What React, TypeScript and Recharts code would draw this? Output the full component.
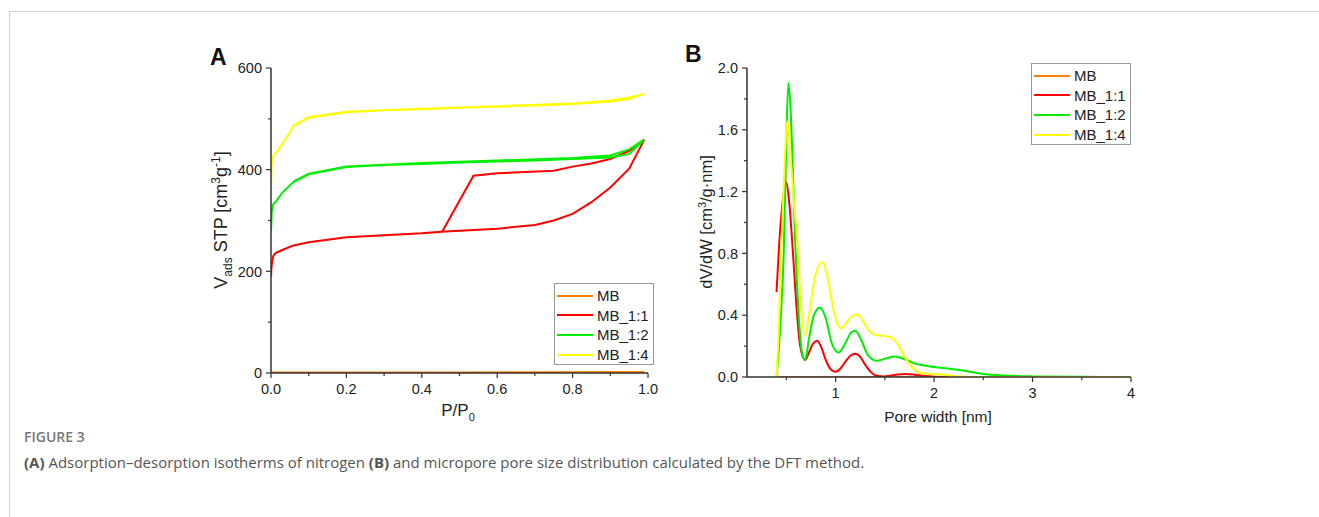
import React from 'react';
import { LineChart, Line, XAxis, YAxis } from 'recharts';

// series
const seriesNames = ['MB', 'MB_1:1', 'MB_1:2', 'MB_1:4'];
const seriesColors = ['#FF8000', '#FF0000', '#00EE00', '#FFFF00'];

// (A) N2 isotherms, [P/P0, V] adsorption then desorption
const isoMB = [[0.0, 1], [0.2, 1], [0.5, 1], [0.8, 1], [0.99, 2], [0.5, 1], [0.0, 1]];
const isoMB11 = [
  [0.0002, 190], [0.001, 205], [0.003, 220], [0.006, 230], [0.012, 236], [0.03, 242], [0.06, 251],
  [0.1, 257], [0.2, 267], [0.3, 271], [0.4, 275], [0.45, 278], [0.5, 280], [0.6, 284], [0.7, 291],
  [0.75, 300], [0.8, 313], [0.85, 336], [0.9, 365], [0.95, 402], [0.99, 459],
  [0.95, 437], [0.9, 421], [0.85, 412], [0.8, 406], [0.75, 398], [0.6, 393], [0.537, 388],
  [0.454, 278], [0.4, 275], [0.3, 271], [0.2, 267], [0.1, 257],
];
const isoMB12 = [
  [0.0002, 280], [0.002, 318], [0.006, 332], [0.015, 339], [0.03, 355], [0.06, 376], [0.1, 391],
  [0.2, 405], [0.3, 409], [0.4, 411], [0.5, 414], [0.6, 416], [0.7, 418], [0.8, 421], [0.9, 424],
  [0.95, 431], [0.99, 459],
  [0.95, 440], [0.9, 428], [0.8, 423], [0.6, 418], [0.4, 413], [0.2, 406], [0.1, 392], [0.06, 377],
];
const isoMB14 = [
  [0.0002, 370], [0.002, 412], [0.006, 428], [0.015, 434], [0.04, 462], [0.06, 486], [0.1, 502],
  [0.2, 513], [0.3, 517], [0.4, 519], [0.5, 522], [0.6, 524], [0.7, 526], [0.8, 529], [0.9, 534],
  [0.95, 539], [0.99, 549],
  [0.95, 542], [0.9, 536], [0.8, 530], [0.6, 525], [0.4, 520], [0.2, 514], [0.1, 503], [0.06, 487],
];

// (B) DFT pore size distribution, [width nm, dV/dW]
const psdMB = [[0.4, 0], [1, 0], [2, 0], [3, 0], [4, 0]];
const psdMB11 = [
  [0.40, 0.55], [0.423, 0.82], [0.46, 1.12], [0.50, 1.26], [0.53, 1.12], [0.565, 0.82], [0.60, 0.48],
  [0.64, 0.2], [0.69, 0.11], [0.73, 0.16], [0.77, 0.215], [0.81, 0.235], [0.85, 0.2], [0.90, 0.11],
  [0.95, 0.05], [1.0, 0.034], [1.05, 0.055], [1.10, 0.1], [1.15, 0.138], [1.20, 0.15], [1.25, 0.13],
  [1.30, 0.08], [1.36, 0.03], [1.42, 0.008], [1.50, 0.004], [1.60, 0.013], [1.70, 0.02], [1.80, 0.015],
  [1.90, 0.006], [2.0, 0.002], [2.2, 0],
];
const psdMB12 = [
  [0.40, 0], [0.44, 0.35], [0.474, 0.82], [0.50, 1.55], [0.52, 1.905], [0.545, 1.7], [0.57, 1.25],
  [0.593, 0.82], [0.63, 0.35], [0.66, 0.15], [0.69, 0.11], [0.73, 0.25], [0.78, 0.4], [0.84, 0.45],
  [0.90, 0.38], [0.96, 0.22], [1.03, 0.158], [1.10, 0.22], [1.16, 0.29], [1.20, 0.3], [1.26, 0.24],
  [1.33, 0.14], [1.42, 0.105], [1.50, 0.118], [1.60, 0.132], [1.70, 0.115], [1.80, 0.088], [1.90, 0.074],
  [2.0, 0.065], [2.2, 0.05], [2.4, 0.03], [2.5, 0.02], [2.7, 0.01], [3.0, 0.004], [3.5, 0.001], [4.0, 0],
];
const psdMB14 = [
  [0.40, 0], [0.425, 0.35], [0.447, 0.82], [0.48, 1.35], [0.51, 1.655], [0.54, 1.45], [0.58, 1.1],
  [0.617, 0.82], [0.65, 0.45], [0.69, 0.27], [0.73, 0.4], [0.79, 0.65], [0.87, 0.745], [0.93, 0.6],
  [0.99, 0.4], [1.06, 0.315], [1.12, 0.36], [1.18, 0.4], [1.22, 0.405], [1.28, 0.36], [1.35, 0.29],
  [1.42, 0.27], [1.50, 0.265], [1.58, 0.25], [1.65, 0.19], [1.72, 0.11], [1.78, 0.06], [1.85, 0.028],
  [1.95, 0.02], [2.05, 0.018], [2.15, 0.008], [2.3, 0.002], [2.5, 0], [4.0, 0],
];

// ticks
const ticksAx = [0, 0.1, 0.2, 0.3, 0.4, 0.5, 0.6, 0.7, 0.8, 0.9, 1.0];
const majorAx = ['0.0', '0.2', '0.4', '0.6', '0.8', '1.0'];
const ticksAy = [0, 100, 200, 300, 400, 500, 600];
const majorAy = ['0', '200', '400', '600'];
const ticksBx = [0.5, 1, 1.5, 2, 2.5, 3, 3.5, 4];
const majorBx = ['1', '2', '3', '4'];
const ticksBy = [0, 0.2, 0.4, 0.6, 0.8, 1.0, 1.2, 1.4, 1.6, 1.8, 2.0];
const majorBy = ['0.0', '0.4', '0.8', '1.2', '1.6', '2.0'];

const isoData = [isoMB, isoMB11, isoMB12, isoMB14];
const psdData = [psdMB, psdMB11, psdMB12, psdMB14];

const FONT = '"Liberation Sans", Arial, sans-serif';
const AX = '#333';
const TS = 5;
const TM = 4;

const toPts = (arr: number[][]) => arr.map(([x, y]) => ({ x, y }));

function leftTick(fmt: (v: number) => string, majors: string[]) {
  return (props: any) => {
    const { x, y, payload } = props;
    const lab = fmt(payload.value);
    const major = majors.includes(lab);
    const ax = x + TS + TM;
    return (
      <g>
        <line x1={ax} x2={ax - (major ? 5 : 3)} y1={y} y2={y} stroke={AX} strokeWidth={1.2} />
        {major && (
          <text x={ax - 9} y={y} dy="0.36em" textAnchor="end" fontSize={14.5} fill="#222" fontFamily={FONT}>
            {lab}
          </text>
        )}
      </g>
    );
  };
}

function bottomTick(fmt: (v: number) => string, majors: string[]) {
  return (props: any) => {
    const { x, y, payload } = props;
    const lab = fmt(payload.value);
    const major = majors.includes(lab);
    const ay = y - TS - TM;
    return (
      <g>
        <line x1={x} x2={x} y1={ay} y2={ay + (major ? 5 : 3)} stroke={AX} strokeWidth={1.2} />
        {major && (
          <text x={x} y={ay + 21} textAnchor="middle" fontSize={14.5} fill="#222" fontFamily={FONT}>
            {lab}
          </text>
        )}
      </g>
    );
  };
}

function Legend2({ left, top }: { left: number; top: number }) {
  return (
    <div
      style={{
        position: 'absolute', left, top, width: 98, height: 80, border: '1px solid #999',
        background: '#fff', fontFamily: FONT, fontSize: 15, color: '#222',
      }}
    >
      {seriesNames.map((n, i) => (
        <div key={n} style={{ position: 'absolute', left: 2, top: 2 + i * 19.7, height: 19, display: 'flex', alignItems: 'center' }}>
          <span style={{ display: 'inline-block', width: 36, height: 2, background: seriesColors[i], marginRight: 4 }} />
          <span>{n}</span>
        </div>
      ))}
    </div>
  );
}

const abs = (left: number, top: number): React.CSSProperties => ({ position: 'absolute', left, top });

export default function App() {
  return (
    <div style={{ position: 'relative', width: 1319, height: 517, overflow: 'hidden', background: '#fff', fontFamily: FONT }}>
      <style>{'body{margin:0}'}</style>
      <div style={{ position: 'absolute', left: 9, top: 11, width: 1400, height: 600, borderTop: '1px solid #cfcfcf', borderLeft: '1px solid #cfcfcf' }} />

      {/* panel A */}
      <div style={abs(201, 58)}>
        <LineChart width={457} height={355} margin={{ top: 10, right: 10, bottom: 0, left: 0 }}>
          <XAxis
            type="number" dataKey="x" domain={[0, 1]} ticks={ticksAx} allowDataOverflow height={40}
            tickSize={TS} tickMargin={TM} tickLine={false} axisLine={{ stroke: AX, strokeWidth: 1.5 }}
            tick={bottomTick((v) => v.toFixed(1), majorAx)} interval={0}
          />
          <YAxis
            type="number" dataKey="y" domain={[0, 600]} ticks={ticksAy} allowDataOverflow width={70}
            tickSize={TS} tickMargin={TM} tickLine={false} axisLine={{ stroke: AX, strokeWidth: 1.5 }}
            tick={leftTick((v) => String(v), majorAy)} interval={0}
          />
          {isoData.map((d, i) => (
            <Line
              key={seriesNames[i]} data={toPts(d)} dataKey="y" type="linear" stroke={seriesColors[i]}
              strokeWidth={2} dot={false} isAnimationActive={false}
            />
          ))}
        </LineChart>
      </div>

      {/* panel B */}
      <div style={abs(677, 58)}>
        <LineChart width={464} height={359} margin={{ top: 10, right: 10, bottom: 0, left: 0 }}>
          <XAxis
            type="number" dataKey="x" domain={[0.1, 4]} ticks={ticksBx} allowDataOverflow height={40}
            tickSize={TS} tickMargin={TM} tickLine={false} axisLine={{ stroke: AX, strokeWidth: 1.5 }}
            tick={bottomTick((v) => String(v), majorBx)} interval={0}
          />
          <YAxis
            type="number" dataKey="y" domain={[0, 2]} ticks={ticksBy} allowDataOverflow width={70}
            tickSize={TS} tickMargin={TM} tickLine={false} axisLine={{ stroke: AX, strokeWidth: 1.5 }}
            tick={leftTick((v) => v.toFixed(1), majorBy)} interval={0}
          />
          {psdData.map((d, i) => (
            <Line
              key={seriesNames[i]} data={toPts(d)} dataKey="y" type="monotone" stroke={seriesColors[i]}
              strokeWidth={2} dot={false} isAnimationActive={false}
            />
          ))}
        </LineChart>
      </div>

      <Legend2 left={554} top={283} />
      <Legend2 left={1031} top={63} />

      {/* panel letters and axis titles */}
      <div style={{ ...abs(210, 44), fontSize: 23, fontWeight: 'bold', color: '#111' }}>A</div>
      <div style={{ ...abs(685, 41), fontSize: 23, fontWeight: 'bold', color: '#111' }}>B</div>

      <div style={{ ...abs(222, 220), transform: 'translate(-50%,-50%) rotate(-90deg)', whiteSpace: 'nowrap', fontSize: 18, color: '#222' }}>
        V<sub style={{ fontSize: 12 }}>ads</sub> STP [cm<sup style={{ fontSize: 12 }}>3</sup>g<sup style={{ fontSize: 12 }}>-1</sup>]
      </div>
      <div style={{ ...abs(706, 222), transform: 'translate(-50%,-50%) rotate(-90deg)', whiteSpace: 'nowrap', fontSize: 16.5, color: '#222' }}>
        dV/dW [cm<sup style={{ fontSize: 11 }}>3</sup>/g·nm]
      </div>
      <div style={{ ...abs(458, 412), transform: 'translate(-50%,-50%)', whiteSpace: 'nowrap', fontSize: 17, color: '#222' }}>
        P/P<sub style={{ fontSize: 11 }}>0</sub>
      </div>
      <div style={{ ...abs(938, 417), transform: 'translate(-50%,-50%)', whiteSpace: 'nowrap', fontSize: 15.5, color: '#222' }}>
        Pore width [nm]
      </div>

      {/* caption */}
      <div style={{ ...abs(24, 428), fontFamily: '"Open Sans", sans-serif', fontSize: 14, fontWeight: 600, color: '#777', lineHeight: '18px' }}>
        FIGURE 3
      </div>
      <div style={{ ...abs(24, 453), fontFamily: '"Open Sans", sans-serif', fontSize: 15, color: '#555', lineHeight: '18px', whiteSpace: 'nowrap' }}>
        <b>(A)</b> Adsorption–desorption isotherms of nitrogen <b>(B)</b> and micropore pore size distribution calculated by the DFT method.
      </div>
    </div>
  );
}
